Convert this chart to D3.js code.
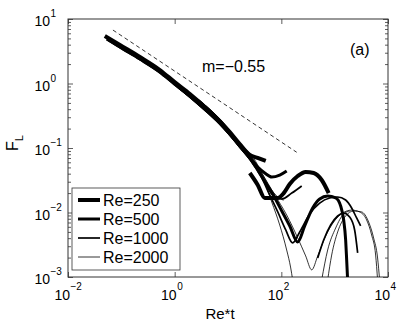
<!DOCTYPE html>
<html>
<head>
<meta charset="utf-8">
<script src="https://cdn.jsdelivr.net/npm/d3@7/dist/d3.min.js"></script>
<style>
body { margin: 0; background: #fff; }
text { font-family: 'Liberation Sans', Arial, sans-serif; fill: #000; }
</style>
</head>
<body>
<div id="chart"></div>
<script>
// values, each point is [Re*t, F_L]
let re250a = [[0.049, 5.45], [0.094, 3.95], [0.223, 2.58], [0.528, 1.62], [1.0, 1.05], [1.93, 0.687],
    [3.68, 0.432], [7.0, 0.262], [10.8, 0.177], [16.6, 0.115], [25.6, 0.078], [36, 0.070], [51, 0.063]];
let re250b = [[25.6, 0.041], [36.1, 0.0267], [48.9, 0.0168], [85.7, 0.0168], [111, 0.020], [144, 0.0277],
    [203, 0.0368], [286, 0.0425], [404, 0.041], [571, 0.0319], [772, 0.020]];

let re500a = [[0.0537, 4.9], [0.094, 3.68], [0.223, 2.4], [0.528, 1.51], [1.0, 0.98], [1.93, 0.64],
    [3.68, 0.403], [7.0, 0.244], [10.8, 0.165], [16.6, 0.107], [25.6, 0.070], [36.1, 0.0507],
    [48.9, 0.041], [66.1, 0.0355], [93.3, 0.0381], [126, 0.044]];
let re500b = [[0.0537, 4.9], [0.094, 3.68], [0.223, 2.4], [0.528, 1.51], [1.0, 0.98], [1.93, 0.64],
    [3.68, 0.403], [7.0, 0.244], [10.8, 0.165], [16.6, 0.107], [25.6, 0.070], [36.1, 0.0456],
    [51, 0.0287], [72.1, 0.018], [102, 0.01054], [144, 0.00618], [203, 0.00349], [274, 0.00618],
    [387, 0.01175], [524, 0.0162], [739, 0.018], [1044, 0.0168], [1295, 0.0126], [1475, 0.00765],
    [1607, 0.00375], [1679, 0.00184], [1750, 0.0009]];

let re1000a = [[1.15, 0.883], [1.93, 0.618], [3.68, 0.388], [7.0, 0.236], [10.8, 0.159], [16.6, 0.104],
    [25.6, 0.0675], [36.1, 0.0472], [48.9, 0.0297], [69, 0.0187], [102, 0.0162], [157, 0.020], [241, 0.0258]];
let re1000b = [[1.15, 0.883], [1.93, 0.618], [3.68, 0.388], [7.0, 0.236], [10.8, 0.159], [16.6, 0.104],
    [25.6, 0.0675], [42.9, 0.0343], [60.6, 0.0187], [85.7, 0.0102], [121, 0.00536], [163, 0.00337],
    [221, 0.00499], [340, 0.00948], [524, 0.014], [806, 0.0168], [1138, 0.0174], [1607, 0.0156],
    [2081, 0.01175], [2582, 0.00822], [3069, 0.00618]];
let re1000c = [[481, 0.00197], [622, 0.00375], [841, 0.0064], [1138, 0.00883], [1475, 0.00982],
    [1909, 0.00852], [2369, 0.00536], [2698, 0.00236]];

let re2000a = [[2.72, 0.575], [3.68, 0.465], [7.0, 0.282], [10.8, 0.184], [16.6, 0.12], [25.6, 0.0778],
    [33, 0.0585], [46.8, 0.0319], [66.1, 0.01455], [93.3, 0.0064], [126, 0.00262], [150, 0.00138], [163, 0.0009]];
let re2000b = [[2.72, 0.575], [3.68, 0.465], [7.0, 0.282], [10.8, 0.184], [16.6, 0.12], [25.6, 0.0778],
    [33, 0.0585], [48.9, 0.0343], [75.2, 0.0187], [126, 0.00914], [203, 0.00403], [286, 0.00212],
    [371, 0.00129], [481, 0.00212], [678, 0.00432], [958, 0.00713], [1413, 0.00982], [2081, 0.0109],
    [2938, 0.0102], [3974, 0.00765], [4932, 0.00448], [5861, 0.00219], [6383, 0.0009]];
let re2000c = [[739, 0.0009], [879, 0.00219], [1138, 0.00499], [1607, 0.00883], [2270, 0.01054],
    [3204, 0.0102], [4333, 0.00713], [5376, 0.00403], [6383, 0.00197], [6966, 0.0009]];
let re2000d = [[571, 0.0009], [739, 0.00262], [1044, 0.00575], [1475, 0.00948], [1950, 0.0106]];
let re2000e = [[2.72, 0.575], [7.0, 0.282], [16.6, 0.12], [33, 0.062], [45, 0.038], [62, 0.024],
    [85, 0.0175], [110, 0.0155]];

// dashed reference line, slope m = -0.55
let slopeLine = [[0.0696, 6.74], [194, 0.0859]];

let reLabels = ['Re=250', 'Re=500', 'Re=1000', 'Re=2000'];
let reCurves = [[re250a, re250b], [re500a, re500b], [re1000a, re1000b, re1000c],
    [re2000a, re2000b, re2000c, re2000d, re2000e]];

let xTicks = [1e-2, 1e0, 1e2, 1e4];
let xTickExp = ['\u22122', '0', '2', '4'];
let yTicks = [1e-3, 1e-2, 1e-1, 1e0, 1e1];
let yTickExp = ['\u22123', '\u22122', '\u22121', '0', '1'];

let lineWidths = [4, 3, 1.7, 0.8];

let margin = { top: 19, right: 17, bottom: 47, left: 68 };
let width = 320;
let height = 258;

let svg = d3.select('#chart')
    .append('svg')
    .attr('width', width + margin.left + margin.right)
    .attr('height', height + margin.top + margin.bottom)
    .append('g')
    .attr('transform', `translate(${margin.left}, ${margin.top})`);

let x = d3.scaleLog().domain([1e-2, 1e4]).range([0, width]);
let y = d3.scaleLog().domain([1e-3, 1e1]).range([height, 0]);

svg.append('clipPath')
    .attr('id', 'plotArea')
    .append('rect')
    .attr('width', width)
    .attr('height', height);

// minor ticks for y (2..9 in each decade)
let yMinor = [];
yTicks.slice(0, -1).forEach(t => {
    for (let k = 2; k <= 9; k++) yMinor.push(t * k);
});

function styleAxis(g) {
    g.select('.domain').remove();
    g.selectAll('line').attr('stroke', '#333').attr('stroke-width', 0.8);
}

// ticks point inwards on all four sides
svg.append('g').attr('transform', `translate(0,${height})`)
    .call(d3.axisBottom(x).tickValues(xTicks).tickSize(-5).tickFormat('')).call(styleAxis);
svg.append('g')
    .call(d3.axisTop(x).tickValues(xTicks).tickSize(-5).tickFormat('')).call(styleAxis);
svg.append('g')
    .call(d3.axisLeft(y).tickValues(yTicks).tickSize(-5).tickFormat('')).call(styleAxis);
svg.append('g').attr('transform', `translate(${width},0)`)
    .call(d3.axisRight(y).tickValues(yTicks).tickSize(-5).tickFormat('')).call(styleAxis);
svg.append('g')
    .call(d3.axisLeft(y).tickValues(yMinor).tickSize(-3).tickFormat('')).call(styleAxis);
svg.append('g').attr('transform', `translate(${width},0)`)
    .call(d3.axisRight(y).tickValues(yMinor).tickSize(-3).tickFormat('')).call(styleAxis);

// box
svg.append('rect')
    .attr('width', width)
    .attr('height', height)
    .attr('fill', 'none')
    .attr('stroke', '#333')
    .attr('stroke-width', 1);

// tick labels: 10 with a superscript exponent
xTicks.forEach((t, i) => {
    svg.append('text')
        .text('10')
        .attr('x', x(t) + 2)
        .attr('y', height + 23)
        .attr('text-anchor', 'end')
        .style('font-size', '14px');
    svg.append('text')
        .text(xTickExp[i])
        .attr('x', x(t) + 2.5)
        .attr('y', height + 13)
        .style('font-size', '10px');
});

yTicks.forEach((t, i) => {
    svg.append('text')
        .text('10')
        .attr('x', -18)
        .attr('y', y(t) + 7)
        .attr('text-anchor', 'end')
        .style('font-size', '14px');
    svg.append('text')
        .text(yTickExp[i])
        .attr('x', -17.5)
        .attr('y', y(t) - 2)
        .style('font-size', '10px');
});

// axis titles
svg.append('text')
    .text('Re*t')
    .attr('x', width / 2 - 8)
    .attr('y', height + 42)
    .attr('text-anchor', 'middle')
    .style('font-size', '15px');

let yTitle = svg.append('text')
    .attr('transform', `translate(${-50}, ${y(0.1) - 5}) rotate(-90)`)
    .attr('text-anchor', 'middle')
    .style('font-size', '16px');
yTitle.append('tspan').text('F');
yTitle.append('tspan').text('L').attr('dy', 5).style('font-size', '11px');

let line = d3.line()
    .x(d => x(d[0]))
    .y(d => y(d[1]))
    .curve(d3.curveMonotoneX);

let plot = svg.append('g').attr('clip-path', 'url(#plotArea)');

plot.append('path')
    .attr('d', line.curve(d3.curveLinear)(slopeLine))
    .attr('fill', 'none')
    .attr('stroke', '#000')
    .attr('stroke-width', 0.8)
    .attr('stroke-dasharray', '4,3');

line.curve(d3.curveMonotoneX);

// thinnest drawn first so the heavy curves sit on top
reCurves.slice().reverse().forEach((curves, j) => {
    let i = reCurves.length - 1 - j;
    plot.selectAll(null)
        .data(curves)
        .enter()
        .append('path')
        .attr('d', d => line(d))
        .attr('fill', 'none')
        .attr('stroke', '#000')
        .attr('stroke-width', lineWidths[i])
        .attr('stroke-linejoin', 'round');
});

svg.append('text')
    .text('m=\u22120.55')
    .attr('x', 134)
    .attr('y', 53)
    .style('font-size', '16px');

svg.append('text')
    .text('(a)')
    .attr('x', 282)
    .attr('y', 36)
    .style('font-size', '16px');

// legend
let legend = svg.append('g').attr('transform', 'translate(4, 169)');

legend.append('rect')
    .attr('width', 108)
    .attr('height', 82)
    .attr('fill', '#fff')
    .attr('stroke', '#333')
    .attr('stroke-width', 0.8);

let rows = legend.selectAll('.row')
    .data(reLabels)
    .enter()
    .append('g')
    .attr('class', 'row')
    .attr('transform', (d, i) => `translate(0, ${12 + i * 19})`);

rows.append('line')
    .attr('x1', 6)
    .attr('x2', 28)
    .attr('stroke', '#000')
    .attr('stroke-width', (d, i) => lineWidths[i]);

rows.append('text')
    .text(d => d)
    .attr('x', 31)
    .attr('y', 6)
    .style('font-size', '16px');
</script>
</body>
</html>
